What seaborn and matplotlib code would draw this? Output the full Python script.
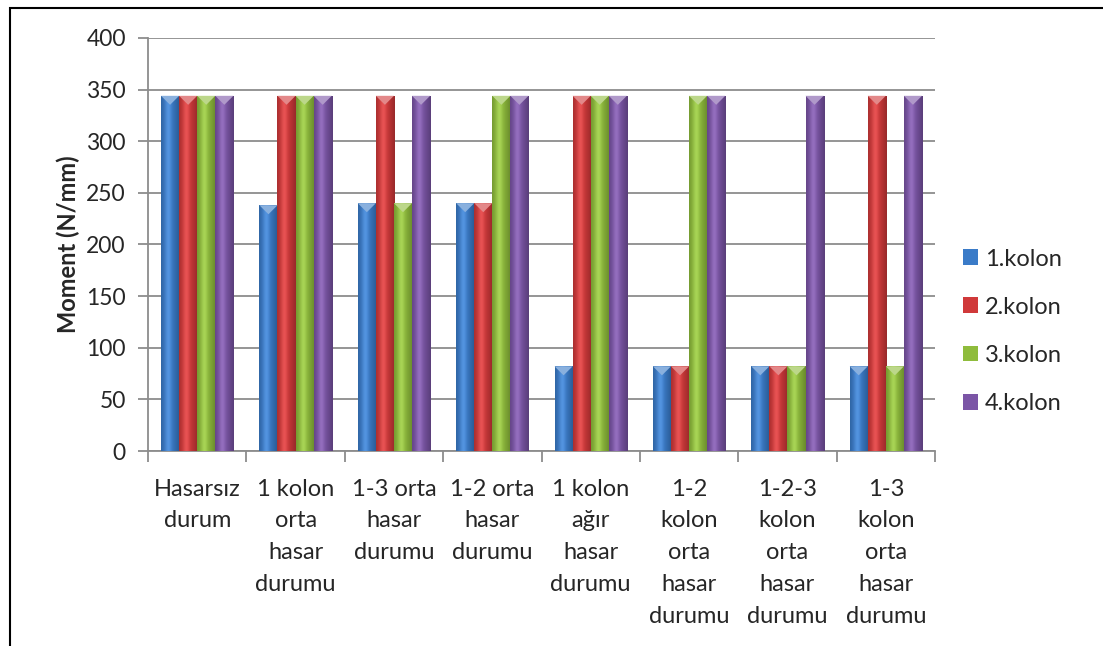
import numpy as np
import pandas as pd
import matplotlib
matplotlib.use('Agg')
import matplotlib.pyplot as plt
import seaborn as sns
from matplotlib.colors import to_rgb
from matplotlib.patches import Rectangle, Polygon

# chart values
categories = ["Hasarsız\ndurum", "1 kolon\norta\nhasar\ndurumu", "1-3 orta\nhasar\ndurumu",
              "1-2 orta\nhasar\ndurumu", "1 kolon\nağır\nhasar\ndurumu", "1-2\nkolon\norta\nhasar\ndurumu",
              "1-2-3\nkolon\norta\nhasar\ndurumu", "1-3\nkolon\norta\nhasar\ndurumu"]
series = ["1.kolon", "2.kolon", "3.kolon", "4.kolon"]
kolon1 = [344, 238, 240, 240, 82, 82, 82, 82]
kolon2 = [344, 344, 344, 240, 344, 82, 82, 344]
kolon3 = [344, 344, 240, 344, 344, 344, 82, 82]
kolon4 = [344, 344, 344, 344, 344, 344, 344, 344]
colors = ["#3a7bc8", "#d0393a", "#8fbc3c", "#7b55a6"]

df = pd.DataFrame({
    "durum": categories * 4,
    "seri": [s for s in series for _ in categories],
    "moment": kolon1 + kolon2 + kolon3 + kolon4,
})

sns.set_style("white")
plt.rcParams['font.family'] = ['Lato', 'DejaVu Sans']

W, H = 1103, 646
fig = plt.figure(figsize=(W / 100, H / 100), dpi=100)
ax = fig.add_axes([148 / W, 1 - 451 / H, (935 - 148) / W, (451 - 38) / H])

sns.barplot(data=df, x="durum", y="moment", hue="seri", palette=colors,
            width=0.735, saturation=1, ax=ax, legend=True, linewidth=0, zorder=2)

ax.set_xlim(-0.5, 7.5)
ax.set_ylim(0, 400)

# soft shading + small bevel triangle on top of every bar
px_per_unit = (451 - 38) / 400
for bar in list(ax.patches):
    if bar.get_height() <= 0 or bar.get_width() <= 0:
        continue
    x0, y0 = bar.get_x(), bar.get_y()
    w, h = bar.get_width(), bar.get_height()
    base = np.array(to_rgb(bar.get_facecolor()))
    t = np.linspace(0, 1, 64)
    shade = 1 - 0.55 * np.abs(t - 0.42) ** 1.3
    glow = 0.10 * np.exp(-((t - 0.38) / 0.18) ** 2)
    light = np.clip(base[None, :] * shade[:, None] + glow[:, None], 0, 1)
    img = ax.imshow(light[None, :, :], extent=(x0, x0 + w, y0, y0 + h), aspect='auto',
                    zorder=3, interpolation='bilinear')
    img.set_clip_path(bar)
    d = 9 / px_per_unit
    tri = Polygon([(x0, y0 + h), (x0 + w, y0 + h), (x0 + w / 2, y0 + h - d)], closed=True,
                  facecolor=np.clip(base * 0.6 + 0.4, 0, 1), edgecolor='none', zorder=4)
    ax.add_patch(tri)

ax.set_yticks(np.arange(0, 401, 50))
ax.yaxis.grid(True, color="#8c8c8c", linewidth=1.3, zorder=0)
ax.set_axisbelow(True)
ax.set_xlabel("")
ax.set_ylabel("Moment (N/mm)", fontsize=17, fontweight='bold')
ax.yaxis.set_label_coords(-0.086, 0.5)
ax.tick_params(axis='y', labelsize=16.5, length=7, width=1.3, color="#8c8c8c", direction='out',
               left=True, pad=9)
ax.tick_params(axis='x', which='major', labelsize=17, length=0, pad=20)
ax.set_xticks(np.arange(-0.5, 8, 1), minor=True)
ax.tick_params(axis='x', which='minor', length=8, width=1.3, color="#8c8c8c", direction='out',
               bottom=True)
for lab in ax.get_xticklabels():
    lab.set_linespacing(1.63)
    lab.set_verticalalignment('top')

for side in ["top", "right"]:
    ax.spines[side].set_visible(False)
for side in ["left", "bottom"]:
    ax.spines[side].set_color("#8c8c8c")
    ax.spines[side].set_linewidth(1.3)

handles, labels = ax.get_legend_handles_labels()
ax.legend(handles, labels, loc='center left', bbox_to_anchor=(1.035, 0.29), frameon=False,
          fontsize=17, handlelength=0.65, handleheight=0.65, handletextpad=0.3,
          labelspacing=1.15, borderpad=0, borderaxespad=0)

# outer chart frame
fig.patches.append(Rectangle((10 / W, -0.05), 1.2, (H - 8) / H + 0.05,
                             transform=fig.transFigure, fill=False, edgecolor='black', linewidth=1.5))

fig.savefig("out.png", dpi=100)
